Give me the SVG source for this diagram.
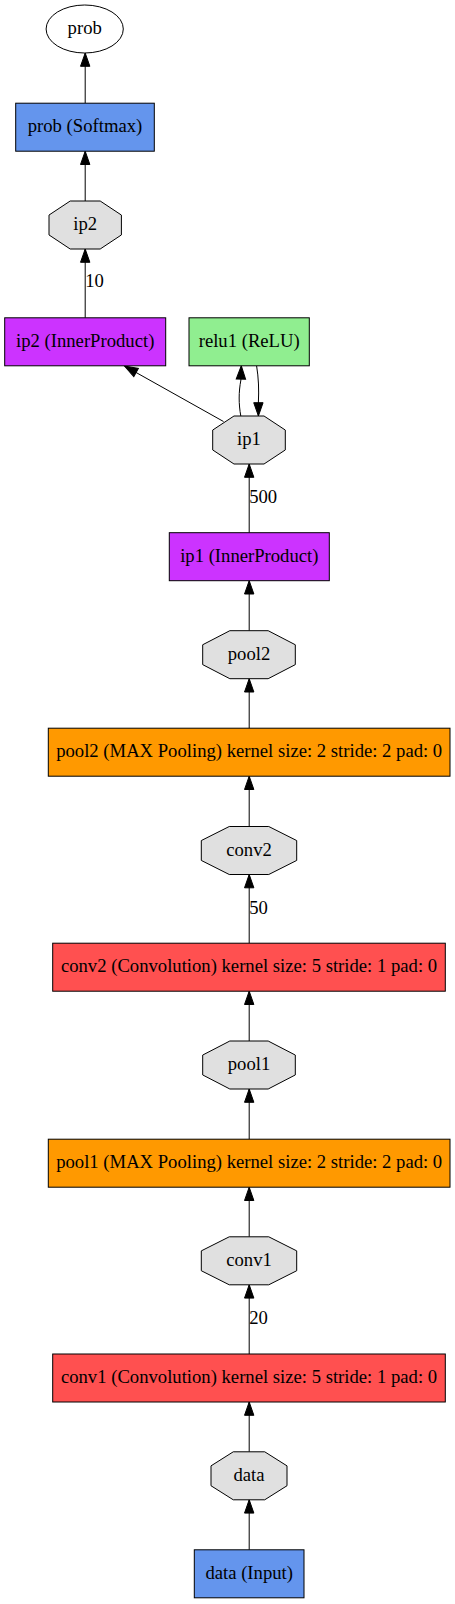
<svg xmlns="http://www.w3.org/2000/svg" width="455" height="1604" viewBox="0 0 455 1604">
<style>
text{font-family:"Liberation Serif","Times New Roman",serif;font-size:18.67px;fill:#000;text-anchor:middle}
.n{stroke:#000;stroke-width:1}
.blob{fill:#E0E0E0}
.blue{fill:#6495ED}
.ip{fill:#CC33FF}
.relu{fill:#90EE90}
.pool{fill:#FF9900}
.conv{fill:#FF5050}
.e{fill:none;stroke:#000;stroke-width:1;marker-end:url(#ah)}
</style>
<defs>
<marker id="ah" markerUnits="userSpaceOnUse" orient="auto" markerWidth="16" markerHeight="12" refX="13.3" refY="5" viewBox="0 0 16 12" overflow="visible">
<path d="M0,0.33 L13.3,5 L0,9.67 Z" fill="#000" stroke="#000" stroke-width="1"/>
</marker>
</defs>
<rect width="455" height="1604" fill="#fff"/>
<g id="edges">
<path class="e" d="M85.2,103.2 L85.2,53"/>
<path class="e" d="M85.2,201 L85.2,151.2"/>
<path class="e" d="M85.2,317.8 L85.2,249"/>
<text x="94.5" y="287">10</text>
<path class="e" d="M223.5,421.5 L124.5,366"/>
<path class="e" d="M240.8,416 C238.6,404 238.6,392 240.9,380 L241.3,365.8"/>
<path class="e" d="M256.6,365.8 C258.6,378 259,390 258.4,402 L258.4,416"/>
<path class="e" d="M249.2,532.7 L249.2,464"/>
<text x="263.2" y="503">500</text>
<path class="e" d="M249.2,630.7 L249.2,580.7"/>
<path class="e" d="M249.2,728.2 L249.2,678.7"/>
<path class="e" d="M249.2,826.5 L249.2,776.2"/>
<path class="e" d="M249.2,943.2 L249.2,874.5"/>
<text x="258.5" y="914">50</text>
<path class="e" d="M249.2,1041 L249.2,991.2"/>
<path class="e" d="M249.2,1139.2 L249.2,1089"/>
<path class="e" d="M249.2,1236.8 L249.2,1187.2"/>
<path class="e" d="M249.2,1354 L249.2,1284.8"/>
<text x="258.5" y="1324">20</text>
<path class="e" d="M249.2,1451.8 L249.2,1402"/>
<path class="e" d="M249.2,1549.8 L249.2,1499.8"/>
</g>
<g id="prob">
<ellipse class="n" fill="#fff" cx="84.7" cy="29" rx="38.6" ry="24"/>
<text x="84.7" y="34">prob</text>
</g>
<g id="prob_softmax">
<rect class="n blue" x="15.7" y="103.2" width="138.6" height="48"/>
<text x="85" y="132.2">prob (Softmax)</text>
</g>
<g id="ip2">
<polygon class="n blob" points="70.2,201 100.2,201 121.4,215.06 121.4,234.94 100.2,249 70.2,249 49,234.94 49,215.06"/>
<text x="85.2" y="230">ip2</text>
</g>
<g id="ip2_innerproduct">
<rect class="n ip" x="4.7" y="317.8" width="161" height="48"/>
<text x="85.2" y="346.8">ip2 (InnerProduct)</text>
</g>
<g id="relu1">
<rect class="n relu" x="189" y="317.8" width="120.3" height="48"/>
<text x="249.2" y="346.8">relu1 (ReLU)</text>
</g>
<g id="ip1">
<polygon class="n blob" points="233.97,416 264.03,416 285.3,430.06 285.3,449.94 264.03,464 233.97,464 212.7,449.94 212.7,430.06"/>
<text x="249" y="445">ip1</text>
</g>
<g id="ip1_innerproduct">
<rect class="n ip" x="169.3" y="532.7" width="160" height="48"/>
<text x="249.3" y="561.7">ip1 (InnerProduct)</text>
</g>
<g id="pool2">
<polygon class="n blob" points="229.83,630.7 268.17,630.7 295.3,644.76 295.3,664.64 268.17,678.7 229.83,678.7 202.7,664.64 202.7,644.76"/>
<text x="249" y="659.7">pool2</text>
</g>
<g id="pool2_layer">
<rect class="n pool" x="48.3" y="728.2" width="401.7" height="48"/>
<text x="249.2" y="757.2">pool2 (MAX Pooling) kernel size: 2 stride: 2 pad: 0</text>
</g>
<g id="conv2">
<polygon class="n blob" points="229.25,826.5 268.75,826.5 296.7,840.56 296.7,860.44 268.75,874.5 229.25,874.5 201.3,860.44 201.3,840.56"/>
<text x="249" y="855.5">conv2</text>
</g>
<g id="conv2_layer">
<rect class="n conv" x="52.7" y="943.2" width="392.6" height="48"/>
<text x="249" y="972.2">conv2 (Convolution) kernel size: 5 stride: 1 pad: 0</text>
</g>
<g id="pool1">
<polygon class="n blob" points="229.83,1041 268.17,1041 295.3,1055.06 295.3,1074.94 268.17,1089 229.83,1089 202.7,1074.94 202.7,1055.06"/>
<text x="249" y="1070">pool1</text>
</g>
<g id="pool1_layer">
<rect class="n pool" x="48.3" y="1139.2" width="401.7" height="48"/>
<text x="249.2" y="1168.2">pool1 (MAX Pooling) kernel size: 2 stride: 2 pad: 0</text>
</g>
<g id="conv1">
<polygon class="n blob" points="229.25,1236.8 268.75,1236.8 296.7,1250.86 296.7,1270.74 268.75,1284.8 229.25,1284.8 201.3,1270.74 201.3,1250.86"/>
<text x="249" y="1265.8">conv1</text>
</g>
<g id="conv1_layer">
<rect class="n conv" x="52.7" y="1354" width="392.6" height="48"/>
<text x="249" y="1383">conv1 (Convolution) kernel size: 5 stride: 1 pad: 0</text>
</g>
<g id="data">
<polygon class="n blob" points="233.27,1451.8 264.73,1451.8 287,1465.86 287,1485.74 264.73,1499.8 233.27,1499.8 211,1485.74 211,1465.86"/>
<text x="249" y="1480.8">data</text>
</g>
<g id="data_input">
<rect class="n blue" x="194.3" y="1549.8" width="109.7" height="48"/>
<text x="249.2" y="1578.8">data (Input)</text>
</g>
</svg>
